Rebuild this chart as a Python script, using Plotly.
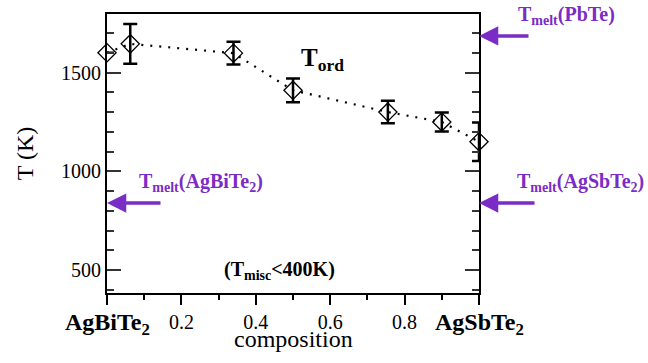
import plotly.graph_objects as go

# ---- data ----
composition = [0.0, 0.0625, 0.34, 0.5, 0.755, 0.9, 1.0]
T_ord = [1600, 1645, 1598, 1410, 1300, 1250, 1150]
T_err = [0, 100, 58, 60, 57, 48, 97]

x_ticks = [0.0, 0.2, 0.4, 0.6, 0.8, 1.0]
x_ticktext = ["", "0.2", "0.4", "0.6", "0.8", ""]
y_ticks = [500, 1000, 1500]

T_melt_AgBiTe2 = 840
T_melt_AgSbTe2 = 840
T_melt_PbTe = 1685

purple = "#7a2cc6"
serif = "Liberation Serif"

fig = go.Figure()
fig.add_trace(go.Scatter(
    x=composition, y=T_ord,
    mode="lines+markers",
    line=dict(color="black", width=2.2, dash="2px,7px"),
    marker=dict(symbol="diamond-open", size=14, color="black", line=dict(width=1.3, color="black")),
    error_y=dict(type="data", array=T_err, visible=True, color="black", thickness=2.5, width=7),
    cliponaxis=False,
    showlegend=False,
))

ann = []
# arrows for melting temperatures
for xv, yv, ax in [(0.0, T_melt_AgBiTe2, 55), (1.0, T_melt_AgSbTe2, 57), (1.0, T_melt_PbTe, 51)]:
    ann.append(dict(x=xv, y=yv, xref="x", yref="y", ax=ax, ay=0, axref="pixel", ayref="pixel",
                    text="", showarrow=True, arrowhead=2, arrowsize=1.1, arrowwidth=3.5,
                    arrowcolor=purple, standoff=0))

ann.append(dict(x=0.08, y=943, xref="paper", yref="y", xanchor="left", yanchor="middle",
                text="<b>T<sub>melt</sub>(AgBiTe<sub>2</sub>)</b>", showarrow=False,
                font=dict(family=serif, size=20, color=purple)))
ann.append(dict(x=1.096, y=943, xref="paper", yref="y", xanchor="left", yanchor="middle",
                text="<b>T<sub>melt</sub>(AgSbTe<sub>2</sub>)</b>", showarrow=False,
                font=dict(family=serif, size=20, color=purple)))
ann.append(dict(x=1.10, y=1790, xref="paper", yref="y", xanchor="left", yanchor="middle",
                text="<b>T<sub>melt</sub>(PbTe)</b>", showarrow=False,
                font=dict(family=serif, size=20, color=purple)))
ann.append(dict(x=0.515, y=1565, xref="x", yref="y", xanchor="left", yanchor="middle",
                text="<b>T<sub>ord</sub></b>", showarrow=False,
                font=dict(family=serif, size=25, color="black")))
ann.append(dict(x=0.308, y=500, xref="x", yref="y", xanchor="left", yanchor="middle",
                text="<b>(T<sub>misc</sub><400K)</b>", showarrow=False,
                font=dict(family=serif, size=20, color="black")))
# end-member labels
ann.append(dict(x=0.0, y=-0.11, xref="paper", yref="paper", xanchor="center", yanchor="middle",
                text="<b>AgBiTe<sub>2</sub></b>", showarrow=False,
                font=dict(family=serif, size=24, color="black")))
ann.append(dict(x=1.0, y=-0.11, xref="paper", yref="paper", xanchor="center", yanchor="middle",
                text="<b>AgSbTe<sub>2</sub></b>", showarrow=False,
                font=dict(family=serif, size=24, color="black")))
# axis titles
ann.append(dict(x=0.5, y=-0.165, xref="paper", yref="paper", xanchor="center", yanchor="middle",
                text="composition", showarrow=False,
                font=dict(family=serif, size=24, color="black")))
ann.append(dict(x=-0.221, y=0.5, xref="paper", yref="paper", xanchor="center", yanchor="middle",
                text="T (K)", textangle=-90, showarrow=False,
                font=dict(family=serif, size=24, color="black")))

fig.update_layout(
    width=648, height=363,
    margin=dict(l=107, r=169, t=14, b=70),
    paper_bgcolor="white", plot_bgcolor="white",
    font=dict(family=serif, size=20, color="black"),
    annotations=ann,
    xaxis=dict(range=[0, 1], showline=True, linecolor="black", linewidth=2, mirror=True,
               ticks="outside", ticklen=10, tickwidth=1.5, tickcolor="black",
               tickvals=x_ticks, ticktext=x_ticktext, showgrid=False, zeroline=False,
               tickfont=dict(family=serif, size=20),
               minor=dict(ticks="outside", dtick=0.1, ticklen=5, tickwidth=1.5, tickcolor="black")),
    yaxis=dict(range=[385, 1796], showline=True, linecolor="black", linewidth=2, mirror="ticks",
               ticks="inside", ticklen=14, tickwidth=1.5, tickcolor="#333",
               tickvals=y_ticks, showgrid=False, zeroline=False,
               tickfont=dict(family=serif, size=20),
               minor=dict(ticks="inside", dtick=100, tick0=0, ticklen=7, tickwidth=1.5, tickcolor="#333")),
)

fig.write_html("out.html")
